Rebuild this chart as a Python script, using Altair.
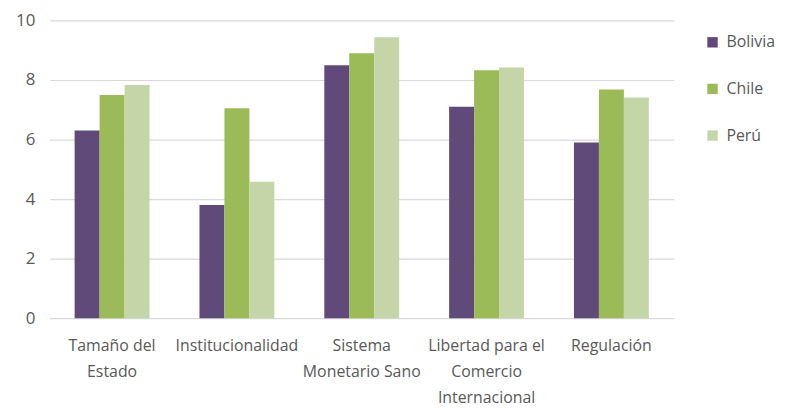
import altair as alt
import pandas as pd

categories = ["Tamaño del Estado", "Institucionalidad", "Sistema Monetario Sano",
              "Libertad para el Comercio Internacional", "Regulación"]
label_lines = [["Tamaño del", "Estado"], ["Institucionalidad"], ["Sistema", "Monetario Sano"],
               ["Libertad para el", "Comercio", "Internacional"], ["Regulación"]]
countries = ["Bolivia", "Chile", "Perú"]
bolivia = [6.3, 3.8, 8.5, 7.1, 5.9]
chile = [7.5, 7.05, 8.9, 8.33, 7.68]
peru = [7.83, 4.58, 9.44, 8.42, 7.41]
colors = ["#5f4a7a", "#9bbb59", "#c4d6a8"]

rows = []
for series, vals in zip(countries, [bolivia, chile, peru]):
    for c, v in zip(categories, vals):
        rows.append({"cat": c, "pais": series, "valor": v})
df = pd.DataFrame(rows)

expr = "''"
for c, lines in reversed(list(zip(categories, label_lines))):
    arr = "[" + ",".join("'" + l + "'" for l in lines) + "]"
    expr = f"datum.label == '{c}' ? {arr} : ({expr})"

FONT = "Open Sans, sans-serif"
GRAY = "#595959"

chart = alt.Chart(df).mark_bar().encode(
    x=alt.X("cat:N", sort=categories, title=None,
            scale=alt.Scale(paddingInner=0.4, paddingOuter=0.2),
            axis=alt.Axis(labelAngle=0, labelExpr=expr, labelFont=FONT, labelFontSize=16,
                          labelColor=GRAY, labelLineHeight=26, labelPadding=20,
                          labelBaseline="top", ticks=False, domain=False, labelLimit=200)),
    xOffset=alt.XOffset("pais:N", sort=countries, scale=alt.Scale(paddingInner=0, paddingOuter=0)),
    y=alt.Y("valor:Q", title=None, scale=alt.Scale(domain=[0, 10]),
            axis=alt.Axis(values=[0, 2, 4, 6, 8, 10], labelFont=FONT, labelFontSize=17,
                          labelColor=GRAY, labelPadding=15, ticks=False, domain=False,
                          gridColor="#d9d9d9", gridWidth=1.2)),
    color=alt.Color("pais:N", sort=countries,
                    scale=alt.Scale(domain=countries, range=colors),
                    legend=alt.Legend(title=None, orient="none", legendX=660, legendY=14,
                                      symbolType="square", symbolSize=110, symbolStrokeWidth=0,
                                      labelFont=FONT, labelFontSize=16, labelColor=GRAY,
                                      rowPadding=31, labelOffset=6, padding=0)),
).properties(
    width=629, height=300,
    padding={"left": 7, "top": 2, "right": 5, "bottom": 5},
).configure_view(stroke=None)

chart.save("out.html", embed_options={"renderer": "svg", "actions": False})
